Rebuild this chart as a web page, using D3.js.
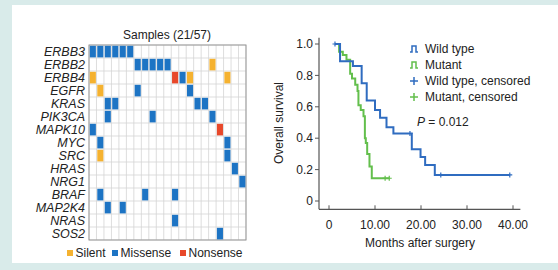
<html>
<head>
<script src="https://d3js.org/d3.v7.min.js"></script>
<style>
  body { margin: 0; background: #d9ebea; }
  svg text { font-family: "Liberation Sans", Arial, sans-serif; fill: #222; }
</style>
</head>
<body>
<div id="graph"></div>
<script>
// oncoprint data
var genes = ["ERBB3","ERBB2","ERBB4","EGFR","KRAS","PIK3CA","MAPK10","MYC","SRC","HRAS","NRG1","BRAF","MAP2K4","NRAS","SOS2"];
var samples = d3.range(21);
var mutTypes = ["Silent","Missense","Nonsense"];
var mutColors = ["#f5b230","#1d74c4","#e8482a"];
var mutations = [
  ["ERBB3",0,"Missense"],["ERBB3",1,"Missense"],["ERBB3",2,"Missense"],["ERBB3",3,"Missense"],["ERBB3",4,"Missense"],["ERBB3",5,"Missense"],
  ["ERBB2",6,"Missense"],["ERBB2",7,"Missense"],["ERBB2",8,"Missense"],["ERBB2",9,"Missense"],["ERBB2",10,"Missense"],["ERBB2",16,"Silent"],
  ["ERBB4",0,"Silent"],["ERBB4",11,"Nonsense"],["ERBB4",12,"Missense"],["ERBB4",13,"Silent"],["ERBB4",18,"Silent"],
  ["EGFR",1,"Silent"],["EGFR",6,"Missense"],["EGFR",13,"Missense"],
  ["KRAS",2,"Missense"],["KRAS",3,"Missense"],["KRAS",14,"Missense"],["KRAS",15,"Missense"],
  ["PIK3CA",2,"Missense"],["PIK3CA",8,"Missense"],["PIK3CA",16,"Missense"],
  ["MAPK10",0,"Missense"],["MAPK10",17,"Nonsense"],
  ["MYC",1,"Missense"],["MYC",18,"Missense"],
  ["SRC",1,"Silent"],["SRC",18,"Missense"],
  ["HRAS",19,"Missense"],
  ["NRG1",20,"Missense"],
  ["BRAF",1,"Missense"],["BRAF",7,"Missense"],["BRAF",11,"Missense"],
  ["MAP2K4",2,"Missense"],["MAP2K4",4,"Missense"],
  ["NRAS",11,"Missense"],
  ["SOS2",17,"Missense"]
];

// survival curves: [months, survival] steps
var wildSteps = [[1.3,1.0],[2.4,0.89],[5.2,0.86],[7.1,0.75],[8.2,0.64],[10.0,0.58],[11.1,0.53],[12.5,0.47],[14.0,0.43],[18.0,0.33],[19.9,0.28],[20.9,0.23],[23.0,0.166],[39.3,0.166]];
var mutSteps = [[1.3,1.0],[2.2,0.95],[3.0,0.93],[3.8,0.90],[4.6,0.81],[5.0,0.78],[5.7,0.74],[6.2,0.70],[6.4,0.61],[6.9,0.58],[7.5,0.54],[7.8,0.40],[8.0,0.37],[8.3,0.30],[8.8,0.22],[9.3,0.145],[13.1,0.145]];
var wildCensored = [[1.3,1.0],[17.6,0.43],[24.3,0.166],[39.3,0.166]];
var mutCensored = [[12.2,0.145],[13.1,0.145]];
var xTicks = [0,10,20,30,40];
var yTicks = [0,0.2,0.4,0.6,0.8,1.0];
var kmLegend = ["Wild type","Mutant","Wild type, censored","Mutant, censored"];
var blue = "#2f6cc0", green = "#63bf4c";

var svg = d3.select("#graph").append("svg").attr("width", 558).attr("height", 270);
svg.append("rect").attr("x", 12).attr("y", 5).attr("width", 546).attr("height", 258).attr("fill", "#fff");

// ---- oncoprint ----
var gx = d3.scaleBand().domain(samples).range([89, 246]);
var gy = d3.scaleBand().domain(genes).range([45, 240]);
var color = d3.scaleOrdinal().domain(mutTypes).range(mutColors);

var onco = svg.append("g");
onco.selectAll("line.v").data(d3.range(22)).enter().append("line")
  .attr("x1", function(d){ return 89 + d * gx.bandwidth(); })
  .attr("x2", function(d){ return 89 + d * gx.bandwidth(); })
  .attr("y1", 45).attr("y2", 240).attr("stroke", "#d4d4d4").attr("stroke-width", 0.8);
onco.selectAll("line.h").data(d3.range(16)).enter().append("line")
  .attr("y1", function(d){ return 45 + d * gy.bandwidth(); })
  .attr("y2", function(d){ return 45 + d * gy.bandwidth(); })
  .attr("x1", 89).attr("x2", 246).attr("stroke", "#d4d4d4").attr("stroke-width", 0.8);
onco.append("rect").attr("x", 89).attr("y", 45).attr("width", 157).attr("height", 195)
  .attr("fill", "none").attr("stroke", "#999").attr("stroke-width", 1);

onco.selectAll("rect.cell").data(mutations).enter().append("rect")
  .attr("class", "cell")
  .attr("x", function(d){ return gx(d[1]) + 0.8; })
  .attr("y", function(d){ return gy(d[0]) + 0.8; })
  .attr("width", gx.bandwidth() - 1.4)
  .attr("height", gy.bandwidth() - 1.4)
  .attr("fill", function(d){ return color(d[2]); });

onco.selectAll("text.gene").data(genes).enter().append("text")
  .attr("x", 85).attr("y", function(d){ return gy(d) + gy.bandwidth() / 2 + 4.2; })
  .attr("text-anchor", "end").style("font-style", "italic").style("font-size", "12.5px")
  .text(function(d){ return d; });

onco.append("text").attr("x", 167).attr("y", 39).attr("text-anchor", "middle")
  .style("font-size", "12px").text("Samples (21/57)");

var legX = [67, 112, 180];
var leg = onco.selectAll("g.leg").data(mutTypes).enter().append("g")
  .attr("transform", function(d, i){ return "translate(" + legX[i] + ",250)"; });
leg.append("rect").attr("width", 6).attr("height", 6).attr("fill", function(d){ return color(d); });
leg.append("text").attr("x", 8.5).attr("y", 7).style("font-size", "12px").text(function(d){ return d; });

// ---- Kaplan-Meier ----
var x = d3.scaleLinear().domain([0, 40]).range([329, 513]);
var y = d3.scaleLinear().domain([0, 1]).range([201, 44]);
var axisY0 = 209.3, axisX0 = 319;
var km = svg.append("g");

km.append("line").attr("x1", axisX0).attr("x2", x(41.6)).attr("y1", axisY0).attr("y2", axisY0)
  .attr("stroke", "#555").attr("stroke-width", 1.2);
km.append("line").attr("x1", axisX0).attr("x2", axisX0).attr("y1", y(1.04)).attr("y2", axisY0)
  .attr("stroke", "#555").attr("stroke-width", 1.2);

km.selectAll("line.xt").data(xTicks).enter().append("line")
  .attr("x1", function(d){ return x(d); }).attr("x2", function(d){ return x(d); })
  .attr("y1", axisY0).attr("y2", axisY0 - 4).attr("stroke", "#555");
km.selectAll("text.xt").data(xTicks).enter().append("text")
  .attr("x", function(d){ return x(d); }).attr("y", 229).attr("text-anchor", "middle")
  .style("font-size", "12px").text(function(d){ return d === 0 ? "0" : d3.format(".2f")(d); });

km.selectAll("line.yt").data(yTicks).enter().append("line")
  .attr("x1", axisX0 - 4).attr("x2", axisX0)
  .attr("y1", function(d){ return y(d); }).attr("y2", function(d){ return y(d); }).attr("stroke", "#555");
km.selectAll("text.yt").data(yTicks).enter().append("text")
  .attr("x", 313).attr("y", function(d){ return y(d) + 4.2; }).attr("text-anchor", "end")
  .style("font-size", "12px").text(function(d){ return d === 0 ? "0" : d3.format(".1f")(d); });

km.append("text").attr("transform", "translate(283,123) rotate(-90)").attr("text-anchor", "middle")
  .style("font-size", "12px").text("Overall survival");
km.append("text").attr("x", 420).attr("y", 247).attr("text-anchor", "middle")
  .style("font-size", "12px").text("Months after surgery");

var line = d3.line().curve(d3.curveStepAfter)
  .x(function(d){ return x(d[0]); }).y(function(d){ return y(d[1]); });
km.append("path").attr("d", line(mutSteps)).attr("fill", "none").attr("stroke", green).attr("stroke-width", 2);
km.append("path").attr("d", line(wildSteps)).attr("fill", "none").attr("stroke", blue).attr("stroke-width", 2);

function plus(g, data, col) {
  g.selectAll(null).data(data).enter().append("path")
    .attr("d", function(d){ var px = x(d[0]), py = y(d[1]);
      return "M" + (px - 2.5) + "," + py + "H" + (px + 2.5) + "M" + px + "," + (py - 2.5) + "V" + (py + 2.5); })
    .attr("stroke", col).attr("stroke-width", 1.2);
}
plus(km, wildCensored, blue);
plus(km, mutCensored, green);

// legend
var legY = [49, 65, 81, 97];
var legCol = [blue, green, blue, green];
kmLegend.forEach(function(t, i){
  var ly = legY[i];
  if (i < 2) {
    km.append("path").attr("d", "M410," + (ly + 3) + "H412V" + (ly - 3) + "H416V" + (ly + 3) + "H418")
      .attr("fill", "none").attr("stroke", legCol[i]).attr("stroke-width", 1.5);
  } else {
    km.append("path").attr("d", "M410," + ly + "H418M414," + (ly - 4) + "V" + (ly + 4))
      .attr("stroke", legCol[i]).attr("stroke-width", 1.5);
  }
  km.append("text").attr("x", 425).attr("y", ly + 4.2).style("font-size", "12px").text(t);
});
var pt = km.append("text").attr("x", 417).attr("y", 126).style("font-size", "12px");
pt.append("tspan").style("font-style", "italic").text("P");
pt.append("tspan").text(" = 0.012");
</script>
</body>
</html>
